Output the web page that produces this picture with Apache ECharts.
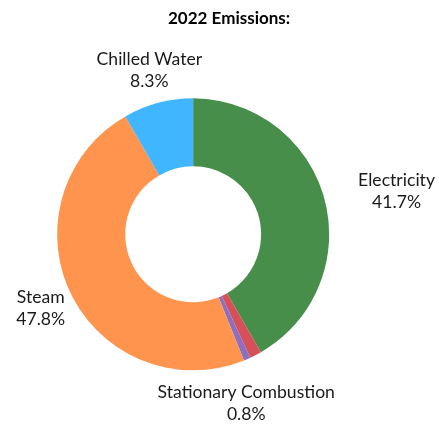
<!DOCTYPE html>
<html>
<head>
<meta charset="utf-8">
<script src="https://cdn.jsdelivr.net/npm/echarts@6/dist/echarts.min.js"></script>
<style>
  html, body { margin: 0; padding: 0; background: #ffffff; }
  #chart { width: 439px; height: 426px; }
</style>
</head>
<body>
<div id="chart"></div>
<script>
// ---- data ----
var titleText = '2022 Emissions:';
var categories = ['Electricity', 'Other', 'Stationary Combustion', 'Steam', 'Chilled Water'];
var values = [41.7, 1.4, 0.8, 47.8, 8.3];
var showLabel = [true, false, true, true, true];

// ---- styles ----
var colors = ['#468e4a', '#d6505a', '#8c6fbe', '#ff944f', '#3fb6ff'];
var labelLen = [30, 30, 48, 33.5, 34];
var labelLen2 = [43, 0, 0, 0, 0];
var labelDx = [0, 0, -20, 0, 0];

var chart = echarts.init(document.getElementById('chart'), null, { renderer: 'canvas' });

var seriesData = categories.map(function (name, i) {
  return {
    name: name,
    value: values[i],
    itemStyle: { color: colors[i] },
    label: { show: showLabel[i] },
    labelLine: { show: false, length: labelLen[i], length2: labelLen2[i] }
  };
});

chart.setOption({
  animation: false,
  title: {
    text: titleText,
    left: 168,
    top: 10,
    padding: 0,
    textStyle: { fontFamily: 'Lato', fontWeight: 'bold', fontSize: 17, color: '#000000' }
  },
  series: [{
    type: 'pie',
    center: ['44%', '55%'],
    radius: ['31.9%', '63.85%'],
    startAngle: 90,
    clockwise: true,
    avoidLabelOverlap: false,
    itemStyle: { borderWidth: 0 },
    emphasis: { disabled: true },
    label: {
      position: 'outside',
      distanceToLabelLine: 0,
      formatter: '{b}\n{c}%',
      fontFamily: 'Lato',
      fontSize: 17.6,
      lineHeight: 22,
      color: '#1a1a1a'
    },
    labelLine: { show: false },
    labelLayout: function (p) {
      return { align: 'center', verticalAlign: 'middle', dx: labelDx[p.dataIndex] || 0 };
    },
    data: seriesData
  }]
});
</script>
</body>
</html>
